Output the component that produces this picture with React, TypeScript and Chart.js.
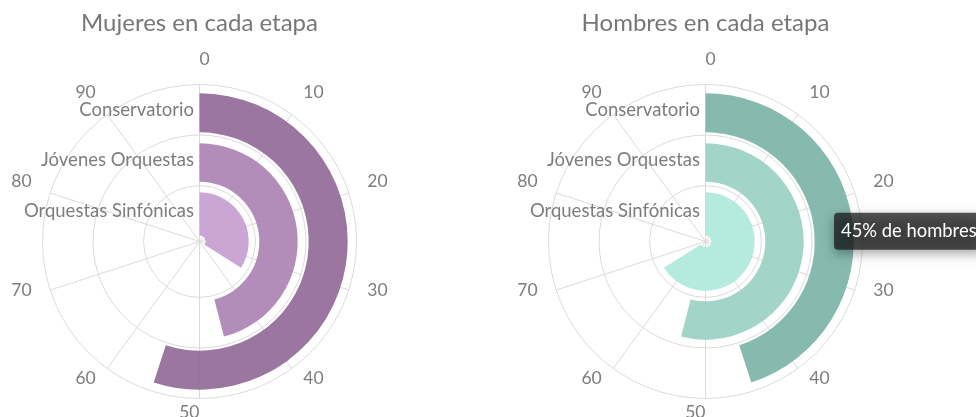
import React, { useEffect, useRef } from 'react';
import { Chart, registerables, Tooltip } from 'chart.js';

Chart.register(...registerables);

// ---------- data ----------
const categories = ['Conservatorio', 'Jóvenes Orquestas', 'Orquestas Sinfónicas'];
const mujeres = [55, 46, 34];
const hombres = [45, 54, 66];
const angleTicks = [0, 10, 20, 30, 40, 50, 60, 70, 80, 90];
const angleMax = 100;
const titles = ['Mujeres en cada etapa', 'Hombres en cada etapa'];
const tooltipWords = ['de mujeres', 'de hombres'];

// ---------- styles ----------
const mujeresColors = ['rgba(143,103,151,0.9)', 'rgba(171,129,179,0.9)', 'rgba(196,156,208,0.9)'];
const hombresColors = ['rgba(121,179,166,0.9)', 'rgba(152,208,194,0.9)', 'rgba(173,232,219,0.9)'];
const FONT = 'Lato, "Open Sans", sans-serif';
const TEXT_GRAY = '#7d7d7d';
const GRID = '#dadada';
const R = 157; // outer radius in px
const CUT = 6; // inner hole in px
// ring thickness (outermost first): gap, bar, gap, bar, gap, bar
const GAP_WEIGHTS = [8.8, 11, 10.6];
const BAR_WEIGHTS = [39, 38.4, 43.2];
const BAND_EDGES = [0.034, 0.356, 0.678, 1]; // radial category bands (fraction of R)
const LABEL_DIST = 19.5;
const LABEL_RAISE = 6;
const ANGLE_FONT = 17.5;
const CAT_FONT = 18.5;

(Tooltip as any).positioners.hoverPoint = function (items: any[]) {
  if (!items.length) return false;
  const el = items[0].element;
  return { x: el.x + el.outerRadius - 19.7, y: el.y - 10.2 };
};

const polarGrid = {
  id: 'polarGrid',
  beforeDatasetsDraw(chart: any) {
    const { ctx, chartArea } = chart;
    const cx = (chartArea.left + chartArea.right) / 2;
    const cy = (chartArea.top + chartArea.bottom) / 2;
    ctx.save();
    ctx.strokeStyle = GRID;
    ctx.lineWidth = 1;
    for (let k = 1; k < BAND_EDGES.length; k++) {
      ctx.beginPath();
      ctx.arc(cx, cy, R * BAND_EDGES[k], 0, Math.PI * 2);
      ctx.stroke();
    }
    for (const t of angleTicks) {
      const a = (t / angleMax) * Math.PI * 2;
      ctx.beginPath();
      ctx.moveTo(cx, cy);
      ctx.lineTo(cx + R * Math.sin(a), cy - R * Math.cos(a));
      ctx.stroke();
    }
    ctx.restore();
  },
  afterDatasetsDraw(chart: any) {
    const { ctx, chartArea } = chart;
    const cx = (chartArea.left + chartArea.right) / 2;
    const cy = (chartArea.top + chartArea.bottom) / 2;
    ctx.save();
    ctx.fillStyle = TEXT_GRAY;
    ctx.textBaseline = 'middle';
    // angle axis labels
    ctx.font = `${ANGLE_FONT}px ${FONT}`;
    for (const t of angleTicks) {
      const a = (t / angleMax) * Math.PI * 2;
      const d = R + LABEL_DIST;
      ctx.textAlign = t < angleMax / 2 ? 'left' : 'right';
      ctx.fillText(String(t), cx + d * Math.sin(a), cy - LABEL_RAISE - d * Math.cos(a));
    }
    // radial category labels
    ctx.font = `${CAT_FONT}px ${FONT}`;
    ctx.textAlign = 'right';
    const nb = categories.length;
    categories.forEach((c, i) => {
      const band = nb - 1 - i; // 0 = innermost
      const r = (R * (BAND_EDGES[band] + BAND_EDGES[band + 1])) / 2;
      ctx.fillText(c, cx - 5.5, cy - r);
    });
    ctx.restore();
  },
  beforeTooltipDraw(chart: any, args: any) {
    const tt = args.tooltip;
    if (!tt || !tt.opacity) return;
    const { ctx } = chart;
    ctx.save();
    ctx.shadowColor = 'rgba(0,0,0,0.35)';
    ctx.shadowBlur = 12;
    ctx.shadowOffsetX = 10000;
    ctx.shadowOffsetY = 4;
    ctx.fillStyle = '#000';
    ctx.beginPath();
    ctx.roundRect(tt.x - 10000, tt.y, tt.width, tt.height, 4);
    ctx.fill();
    ctx.restore();
  },
};

function buildConfig(values: number[], colors: string[], which: number, padRight: number): any {
  const datasets: any[] = [];
  values.forEach((v, i) => {
    datasets.push({ data: [], weight: GAP_WEIGHTS[i] });
    datasets.push({
      label: categories[i],
      data: [v, angleMax - v],
      backgroundColor: [colors[i], 'rgba(0,0,0,0)'],
      borderWidth: 0,
      weight: BAR_WEIGHTS[i],
    });
  });
  return {
    type: 'doughnut',
    data: { labels: ['valor', 'resto'], datasets },
    options: {
      responsive: false,
      maintainAspectRatio: false,
      animation: false,
      events: [],
      radius: R,
      cutout: `${(CUT / R) * 100}%`,
      layout: { padding: { left: 0, right: padRight, top: 0, bottom: 0 } },
      plugins: {
        legend: { display: false },
        title: {
          display: true,
          text: titles[which],
          color: '#777777',
          font: { family: FONT, size: 24, weight: 'normal' },
          padding: { top: 8.6, bottom: 28.6 },
        },
        tooltip: {
          enabled: true,
          position: 'hoverPoint',
          xAlign: 'left',
          yAlign: 'center',
          caretSize: 0,
          caretPadding: 0,
          displayColors: false,
          backgroundColor: 'rgba(22,22,22,0.72)',
          bodyColor: '#ffffff',
          bodyFont: { family: FONT, size: 18.4 },
          padding: { top: 7.5, bottom: 7.5, left: 7, right: 7 },
          cornerRadius: 4,
          callbacks: {
            title: () => [],
            label: (item: any) => `${item.raw}% ${tooltipWords[which]}`,
          },
        },
      },
    },
    plugins: [polarGrid],
  };
}

export default function App() {
  const leftRef = useRef<HTMLCanvasElement | null>(null);
  const rightRef = useRef<HTMLCanvasElement | null>(null);

  useEffect(() => {
    let cancelled = false;
    const charts: Chart[] = [];
    const build = () => {
      if (cancelled || !leftRef.current || !rightRef.current) return;
      const c1 = new Chart(leftRef.current, buildConfig(mujeres, mujeresColors, 0, 1));
      const c2 = new Chart(rightRef.current, buildConfig(hombres, hombresColors, 1, 121));
      c2.tooltip!.setActiveElements([{ datasetIndex: 1, index: 0 }], { x: 0, y: 0 });
      c2.update();
      charts.push(c1, c2);
    };
    const fontsReady = (document as any).fonts
      ? Promise.all([
          (document as any).fonts.load(`17px Lato`),
          (document as any).fonts.load(`24px Lato`),
        ]).catch(() => null)
      : Promise.resolve();
    Promise.race([fontsReady, new Promise((r) => setTimeout(r, 400))]).then(build);
    return () => {
      cancelled = true;
      charts.forEach((c) => c.destroy());
    };
  }, []);

  return (
    <div
      style={{
        position: 'fixed',
        left: 0,
        top: 0,
        width: 976,
        height: 417,
        overflow: 'hidden',
        background: '#ffffff',
      }}
    >
      <canvas
        ref={leftRef}
        width={400}
        height={417}
        style={{ position: 'absolute', left: 0, top: 0, display: 'block' }}
      />
      <canvas
        ref={rightRef}
        width={520}
        height={417}
        style={{ position: 'absolute', left: 506, top: 0, display: 'block' }}
      />
    </div>
  );
}
